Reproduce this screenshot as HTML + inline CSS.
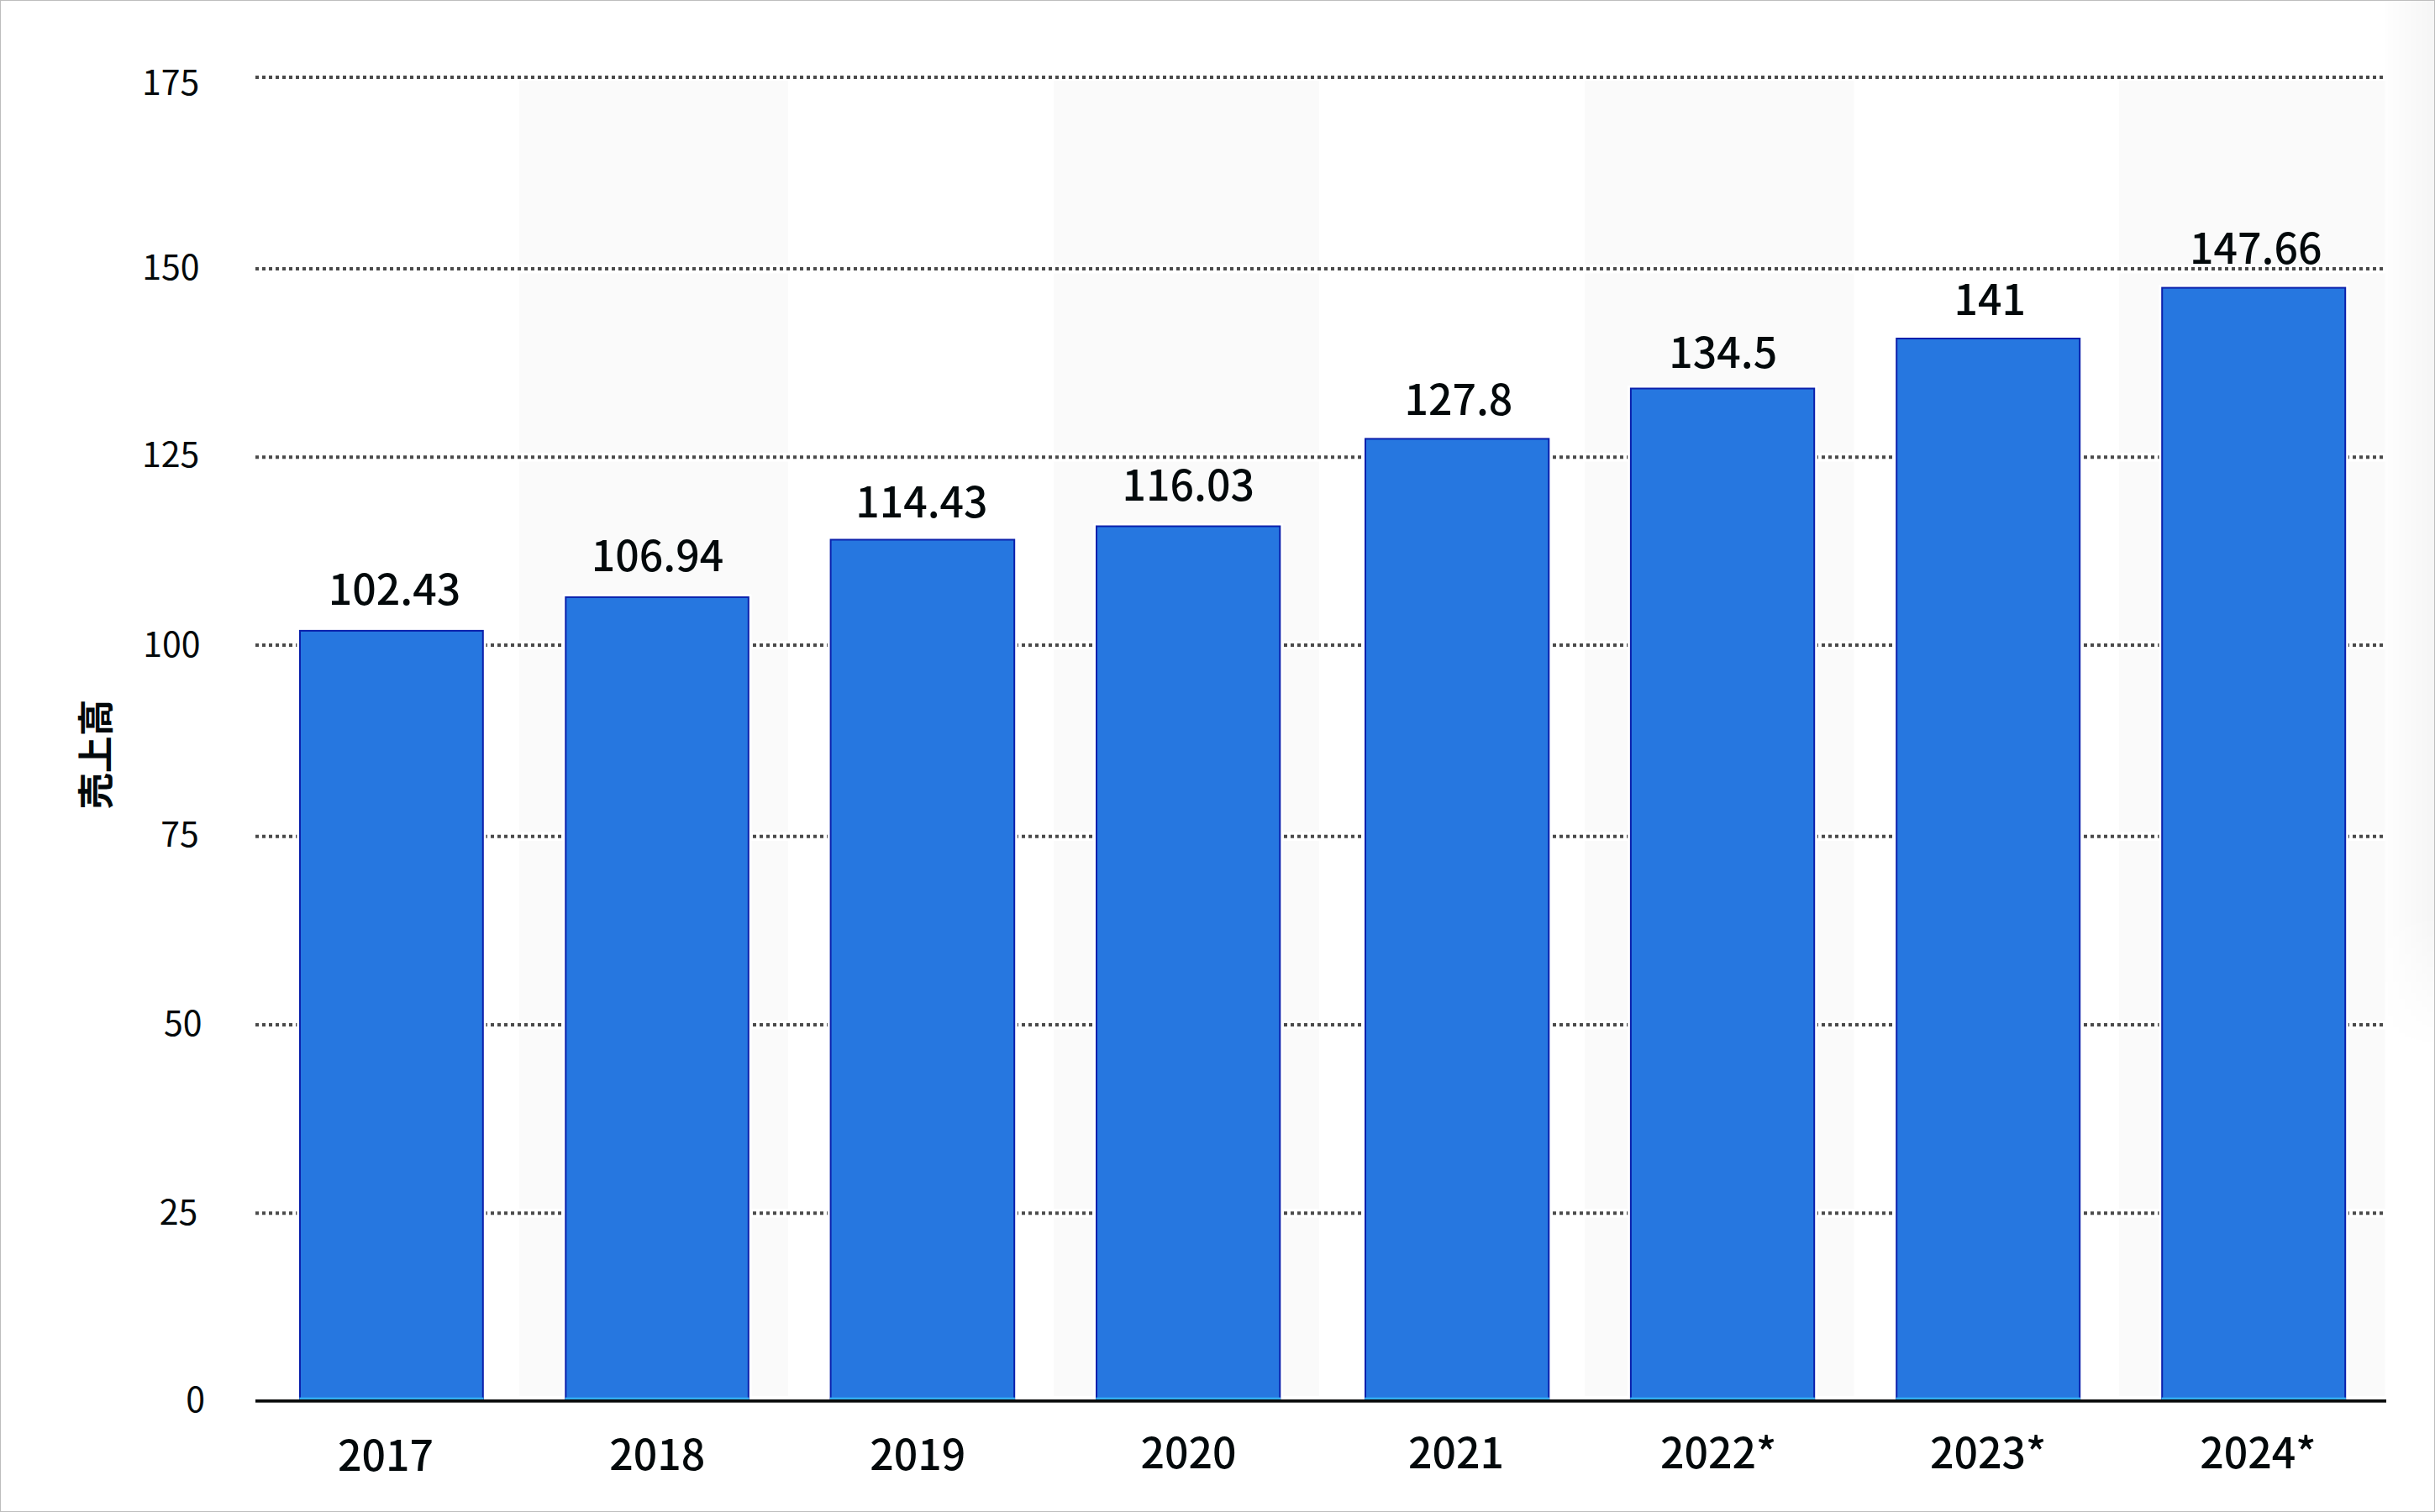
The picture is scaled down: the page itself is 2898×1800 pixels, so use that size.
<!DOCTYPE html>
<html lang="ja"><head><meta charset="utf-8"><title>売上高</title>
<style>
html,body{margin:0;padding:0;background:#fff;}
body{width:2898px;height:1800px;overflow:hidden;position:relative;}
svg{position:absolute;left:0;top:0;display:block;}
text{font-family:"Noto Sans CJK JP", "Liberation Sans", sans-serif;fill:#03090b;}
.yl{font-size:41px;font-weight:400;text-anchor:end;}
.vl{font-size:50px;font-weight:500;text-anchor:middle;}
.xl{font-size:50px;font-weight:500;text-anchor:middle;}
.ti{font-size:43.6px;font-weight:700;text-anchor:middle;}
.grid line{stroke:#4a4a4a;stroke-width:4;stroke-dasharray:4 4;}
.bars rect{fill:#2677e0;stroke:#0b20ac;stroke-width:2;}
</style></head><body>
<svg width="2898" height="1800" viewBox="0 0 2898 1800">
<rect x="0.5" y="0.5" width="2897" height="1799" fill="#fff" stroke="#bdbdbd" stroke-width="1"/>
<defs><linearGradient id="gx" x1="0" x2="1" y1="0" y2="0"><stop offset="0" stop-color="#000" stop-opacity="0.004"/><stop offset="1" stop-color="#000" stop-opacity="0.038"/></linearGradient><linearGradient id="gy" x1="0" x2="0" y1="0" y2="1"><stop offset="0" stop-color="#fff"/><stop offset="0.87" stop-color="#fff"/><stop offset="1" stop-color="#000"/></linearGradient><mask id="mk" maskUnits="userSpaceOnUse" x="2790" y="0" width="108" height="1250"><rect x="2790" y="0" width="108" height="1250" fill="url(#gy)"/></mask></defs>
<rect x="2838.5" y="1" width="58.5" height="1249" fill="url(#gx)" mask="url(#mk)"/>
<g class="bands" fill="#fafafa">
<rect x="618" y="96" width="320" height="1566"/>
<rect x="1254" y="96" width="315.7" height="1566"/>
<rect x="1886" y="96" width="320.6" height="1566"/>
<rect x="2522" y="96" width="316.5" height="1566"/>
</g>
<g fill="#fff">
<rect x="618" y="314.8" width="320" height="10.6"/>
<rect x="618" y="539" width="320" height="10.6"/>
<rect x="618" y="762.7" width="320" height="10.6"/>
<rect x="618" y="990.5" width="320" height="10.6"/>
<rect x="618" y="1214.8" width="320" height="10.6"/>
<rect x="618" y="1439" width="320" height="10.6"/>
<rect x="1254" y="314.8" width="315.7" height="10.6"/>
<rect x="1254" y="539" width="315.7" height="10.6"/>
<rect x="1254" y="762.7" width="315.7" height="10.6"/>
<rect x="1254" y="990.5" width="315.7" height="10.6"/>
<rect x="1254" y="1214.8" width="315.7" height="10.6"/>
<rect x="1254" y="1439" width="315.7" height="10.6"/>
<rect x="1886" y="314.8" width="320.6" height="10.6"/>
<rect x="1886" y="539" width="320.6" height="10.6"/>
<rect x="1886" y="762.7" width="320.6" height="10.6"/>
<rect x="1886" y="990.5" width="320.6" height="10.6"/>
<rect x="1886" y="1214.8" width="320.6" height="10.6"/>
<rect x="1886" y="1439" width="320.6" height="10.6"/>
<rect x="2522" y="314.8" width="316.5" height="10.6"/>
<rect x="2522" y="539" width="316.5" height="10.6"/>
<rect x="2522" y="762.7" width="316.5" height="10.6"/>
<rect x="2522" y="990.5" width="316.5" height="10.6"/>
<rect x="2522" y="1214.8" width="316.5" height="10.6"/>
<rect x="2522" y="1439" width="316.5" height="10.6"/>
</g>
<g class="grid">
<line x1="304" y1="92.1" x2="2838" y2="92.1"/>
<line x1="304" y1="320.1" x2="2838" y2="320.1"/>
<line x1="304" y1="544.3" x2="2838" y2="544.3"/>
<line x1="304" y1="768" x2="2838" y2="768"/>
<line x1="304" y1="995.8" x2="2838" y2="995.8"/>
<line x1="304" y1="1220.1" x2="2838" y2="1220.1"/>
<line x1="304" y1="1444.3" x2="2838" y2="1444.3"/>
</g>
<g fill="#fff">
<rect x="353.3" y="747.5" width="225.2" height="918.5"/>
<rect x="669.6" y="707.5" width="224.9" height="958.5"/>
<rect x="984.9" y="639.1" width="226" height="1026.9"/>
<rect x="1301.3" y="623.1" width="225.7" height="1042.9"/>
<rect x="1621.3" y="519" width="225.7" height="1147"/>
<rect x="1937.2" y="459.1" width="225.7" height="1206.9"/>
<rect x="2253.5" y="399.6" width="225.4" height="1266.4"/>
<rect x="2569.5" y="339.2" width="225.4" height="1326.8"/>
</g>
<g class="bars">
<rect x="357" y="750.9" width="217.8" height="917.1"/>
<rect x="673.3" y="710.9" width="217.5" height="957.1"/>
<rect x="988.6" y="642.5" width="218.6" height="1025.5"/>
<rect x="1305" y="626.5" width="218.3" height="1041.5"/>
<rect x="1625" y="522.4" width="218.3" height="1145.6"/>
<rect x="1940.9" y="462.5" width="218.3" height="1205.5"/>
<rect x="2257.2" y="403" width="218" height="1265"/>
<rect x="2573.2" y="342.6" width="218" height="1325.4"/>
</g>
<g class="barfoot" fill="#33adf0">
<rect x="356.3" y="1663.6" width="219.2" height="2.4"/>
<rect x="672.6" y="1663.6" width="218.9" height="2.4"/>
<rect x="987.9" y="1663.6" width="220" height="2.4"/>
<rect x="1304.3" y="1663.6" width="219.7" height="2.4"/>
<rect x="1624.3" y="1663.6" width="219.7" height="2.4"/>
<rect x="1940.2" y="1663.6" width="219.7" height="2.4"/>
<rect x="2256.5" y="1663.6" width="219.4" height="2.4"/>
<rect x="2572.5" y="1663.6" width="219.4" height="2.4"/>
</g>
<rect x="304" y="1666" width="2536" height="3.7" fill="#090b0b"/>
<g>
<text class="yl" x="237.2" y="113.4">175</text>
<text class="yl" x="237.6" y="332.6">150</text>
<text class="yl" x="237.2" y="555.7">125</text>
<text class="yl" x="238.6" y="781.5">100</text>
<text class="yl" x="236.7" y="1007.7">75</text>
<text class="yl" x="240.4" y="1232.6">50</text>
<text class="yl" x="235.3" y="1457.9">25</text>
<text class="yl" x="243.9" y="1680.6">0</text>
<text class="vl" x="469.5" y="720.1">102.43</text>
<text class="vl" x="782.55" y="679.9">106.94</text>
<text class="vl" x="1096.9" y="616.4">114.43</text>
<text class="vl" x="1414.3" y="595.7">116.03</text>
<text class="vl" x="1735.85" y="493.5">127.8</text>
<text class="vl" x="2050.8" y="437.6">134.5</text>
<text class="vl" x="2368.3" y="374.9">141</text>
<text class="vl" x="2684.7" y="313.7">147.66</text>
<text class="xl" x="459.05" y="1751.4">2017</text>
<text class="xl" x="782.35" y="1750.2">2018</text>
<text class="xl" x="1092.3" y="1750.2">2019</text>
<text class="xl" x="1414.4" y="1748.2">2020</text>
<text class="xl" x="1733.1" y="1748.2">2021</text>
<text class="xl" x="2045" y="1748.2">2022*</text>
<text class="xl" x="2366" y="1748.2">2023*</text>
<text class="xl" x="2687.3" y="1748.4">2024*</text>
<text class="ti" transform="translate(111.3 898.1) rotate(-90)" x="0" y="0" dominant-baseline="central">売上高</text>
</g>
</svg>
</body></html>
